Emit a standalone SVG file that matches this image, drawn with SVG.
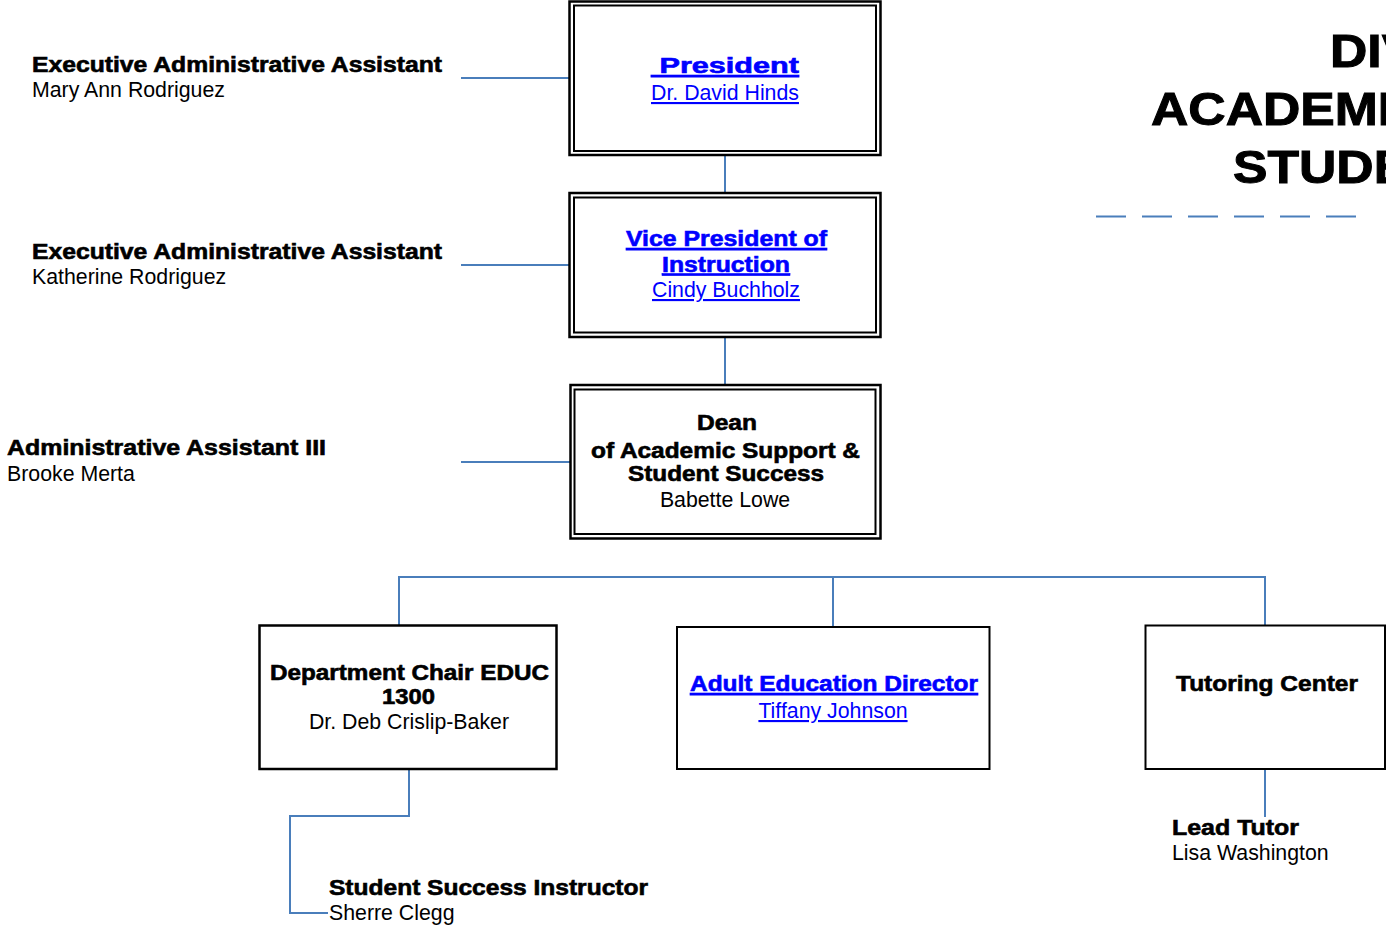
<svg xmlns="http://www.w3.org/2000/svg" width="1386" height="926" viewBox="0 0 1386 926">
<style>
text{font-family:"Liberation Sans",Arial,sans-serif;font-size:21.3px;fill:#000}
.b{font-weight:700;stroke:#000;stroke-width:0.6}
.lk{fill:#0000ff;text-decoration:underline}
.lk.b{stroke:#0000ff}
.c{text-anchor:middle}
.t{font-weight:700;font-size:47px;stroke:#000;stroke-width:1}
.box{fill:#fff;stroke:#000;stroke-width:2.5}
.inner{fill:none;stroke:#000;stroke-width:2}
.con{fill:none;stroke:#4a7ebb;stroke-width:2}
</style>
<rect width="1386" height="926" fill="#fff"/>

<g id="connectors">
<line class="con" x1="461" y1="78" x2="569" y2="78"/>
<line class="con" x1="461" y1="265" x2="569" y2="265"/>
<line class="con" x1="461" y1="462" x2="570" y2="462"/>
<line class="con" x1="725" y1="156" x2="725" y2="193"/>
<line class="con" x1="725" y1="337" x2="725" y2="385"/>
<polyline class="con" points="399,625 399,577 1265,577 1265,625"/>
<line class="con" x1="833" y1="577" x2="833" y2="627"/>
<polyline class="con" points="409,769 409,816 290,816 290,913 328,913"/>
<line class="con" x1="1265" y1="769" x2="1265" y2="817"/>
</g>

<g id="title">
<text class="t" transform="translate(1330,67) scale(1.1,1)">DIVISION OF</text>
<text class="t" transform="translate(1151,125) scale(1.1,1)">ACADEMIC SUPPORT &amp;</text>
<text class="t" transform="translate(1233,183) scale(1.1,1)">STUDENT SUCCESS</text>
<line x1="1096" y1="216.5" x2="1358" y2="216.5" stroke="#4a7ebb" stroke-width="2" stroke-dasharray="30 16"/>
</g>

<g id="asst1">
<text class="b" x="32" y="72" textLength="410" lengthAdjust="spacingAndGlyphs">Executive Administrative Assistant</text>
<text x="32" y="97">Mary Ann Rodriguez</text>
</g>
<g id="asst2">
<text class="b" x="32" y="259" textLength="410" lengthAdjust="spacingAndGlyphs">Executive Administrative Assistant</text>
<text x="32" y="284">Katherine Rodriguez</text>
</g>
<g id="asst3">
<text class="b" x="7" y="455" textLength="319" lengthAdjust="spacingAndGlyphs">Administrative Assistant III</text>
<text x="7" y="481">Brooke Merta</text>
</g>

<g id="president">
<rect class="box" x="569.5" y="1.5" width="311" height="153.5"/>
<rect class="inner" x="574" y="5.5" width="302" height="145.5"/>
<text class="b lk" x="651" y="73" textLength="148" lengthAdjust="spacingAndGlyphs" font-size="24" xml:space="preserve"> President</text>
<text class="lk c" x="725" y="100">Dr. David Hinds</text>
</g>

<g id="vp">
<rect class="box" x="569.5" y="193" width="311" height="144"/>
<rect class="inner" x="574" y="197.5" width="302" height="135"/>
<text class="b lk" x="626" y="246" textLength="201" lengthAdjust="spacingAndGlyphs">Vice President of</text>
<text class="b lk" x="662" y="271.5" textLength="128" lengthAdjust="spacingAndGlyphs">Instruction</text>
<text class="lk c" x="726" y="297">Cindy Buchholz</text>
</g>

<g id="dean">
<rect class="box" x="570.5" y="385" width="310" height="153.5"/>
<rect class="inner" x="574.5" y="389.5" width="301" height="144.5"/>
<text class="b" x="697" y="430" textLength="60" lengthAdjust="spacingAndGlyphs">Dean</text>
<text class="b" x="591" y="457.5" textLength="269" lengthAdjust="spacingAndGlyphs">of Academic Support &amp;</text>
<text class="b" x="628" y="481" textLength="196" lengthAdjust="spacingAndGlyphs">Student Success</text>
<text class="c" x="725" y="507">Babette Lowe</text>
</g>

<g id="deptchair">
<rect class="box" x="259.5" y="625.5" width="297" height="143.5"/>
<text class="b" x="270" y="680" textLength="279" lengthAdjust="spacingAndGlyphs">Department Chair EDUC</text>
<text class="b" x="382" y="703.5" textLength="53" lengthAdjust="spacingAndGlyphs">1300</text>
<text class="c" x="409" y="729">Dr. Deb Crislip-Baker</text>
</g>

<g id="adulted">
<rect class="box" x="677" y="627" width="312.5" height="142" style="stroke-width:2"/>
<text class="b lk" x="690" y="691" textLength="288" lengthAdjust="spacingAndGlyphs">Adult Education Director</text>
<text class="lk c" x="833" y="718">Tiffany Johnson</text>
</g>

<g id="tutoring">
<rect class="box" x="1145.5" y="625.5" width="239.5" height="143.5" style="stroke-width:2"/>
<text class="b" x="1176" y="691" textLength="182" lengthAdjust="spacingAndGlyphs">Tutoring Center</text>
</g>

<g id="leadtutor">
<text class="b" x="1172" y="835" textLength="127" lengthAdjust="spacingAndGlyphs">Lead Tutor</text>
<text x="1172" y="860">Lisa Washington</text>
</g>

<g id="ssinstructor">
<text class="b" x="329" y="895" textLength="319" lengthAdjust="spacingAndGlyphs">Student Success Instructor</text>
<text x="329" y="920">Sherre Clegg</text>
</g>
</svg>
